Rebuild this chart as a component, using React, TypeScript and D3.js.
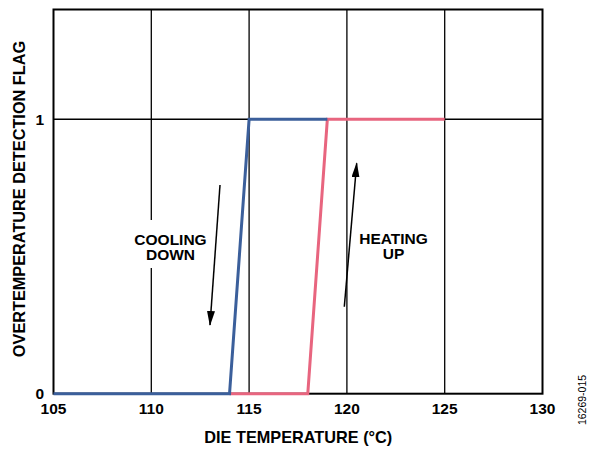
import React from "react";
import * as d3 from "d3";

const xTicks = [105, 110, 115, 120, 125, 130];
const yTicks = [0, 1];
const coolingX = [105, 114, 115, 119];
const coolingY = [0, 0, 1, 1];
const heatingX = [114, 118, 119, 125];
const heatingY = [0, 0, 1, 1];
const xTitle = "DIE TEMPERATURE (°C)";
const yTitle = "OVERTEMPERATURE DETECTION FLAG";
const coolingLabel = ["COOLING", "DOWN"];
const heatingLabel = ["HEATING", "UP"];
const figId = "16269-015";

const W = 591, H = 451;
const L = 53.5, R = 542.5, T = 9.5, B = 393.7;
const FONT = "Arial, 'Liberation Sans', Helvetica, sans-serif";

export default function App() {
  const x = d3.scaleLinear().domain([105, 130]).range([L, R]);
  const y = d3.scaleLinear().domain([0, 1.4]).range([B, T]);
  const mk = (xs: number[], ys: number[]) =>
    d3.line<[number, number]>().x((d) => x(d[0])).y((d) => y(d[1]))(xs.map((v, i) => [v, ys[i]] as [number, number])) || "";
  return (
    <svg width={W} height={H} style={{ position: "absolute", left: 0, top: 0, background: "#fff" }} fontFamily={FONT}>
      <defs>
        <marker id="ah" viewBox="0 0 15 8" refX="14" refY="4" markerWidth="15" markerHeight="8" markerUnits="userSpaceOnUse" orient="auto">
          <path d="M0,0 L15,4 L0,8 z" fill="#000" />
        </marker>
      </defs>
      {xTicks.slice(1, -1).map((t) => (
        <line key={"gx" + t} x1={x(t)} x2={x(t)} y1={T} y2={B} stroke="#000" strokeWidth={1.3} />
      ))}
      {yTicks.slice(1).map((t) => (
        <line key={"gy" + t} x1={L} x2={R} y1={y(t)} y2={y(t)} stroke="#000" strokeWidth={1.3} />
      ))}
      <rect x={x(110) - 4} y={220} width={8} height={48} fill="#fff" />
      <rect x={L} y={T} width={R - L} height={B - T} fill="none" stroke="#000" strokeWidth={2} />
      <path d={mk(heatingX, heatingY)} fill="none" stroke="#e8657f" strokeWidth={3} />
      <path d={mk(coolingX, coolingY)} fill="none" stroke="#3b5f9b" strokeWidth={3} />
      <line x1={220} y1={185} x2={210} y2={325} stroke="#000" strokeWidth={1.5} markerEnd="url(#ah)" />
      <line x1={344.3} y1={306.7} x2={356.7} y2={163.3} stroke="#000" strokeWidth={1.5} markerEnd="url(#ah)" />
      {coolingLabel.map((s, i) => (
        <text key={s} x={170.5} y={244.5 + i * 15.5} textAnchor="middle" fontWeight="bold" fontSize={15.5}>{s}</text>
      ))}
      {heatingLabel.map((s, i) => (
        <text key={s} x={393.5} y={243.5 + i * 15.5} textAnchor="middle" fontWeight="bold" fontSize={15.5}>{s}</text>
      ))}
      {xTicks.map((t) => (
        <text key={"tx" + t} x={x(t)} y={414} textAnchor="middle" fontWeight="bold" fontSize={15.5}>{t}</text>
      ))}
      {yTicks.map((t) => (
        <text key={"ty" + t} x={44} y={y(t) + 5.5} textAnchor="end" fontWeight="bold" fontSize={15.5}>{t}</text>
      ))}
      <text x={298.3} y={443} textAnchor="middle" fontWeight="bold" fontSize={16.3}>{xTitle}</text>
      <text transform={`translate(25,199) rotate(-90)`} textAnchor="middle" fontWeight="bold" fontSize={16.3}>{yTitle}</text>
      <text transform={`translate(586,400) rotate(-90)`} textAnchor="middle" fontSize={10.5}>{figId}</text>
    </svg>
  );
}
